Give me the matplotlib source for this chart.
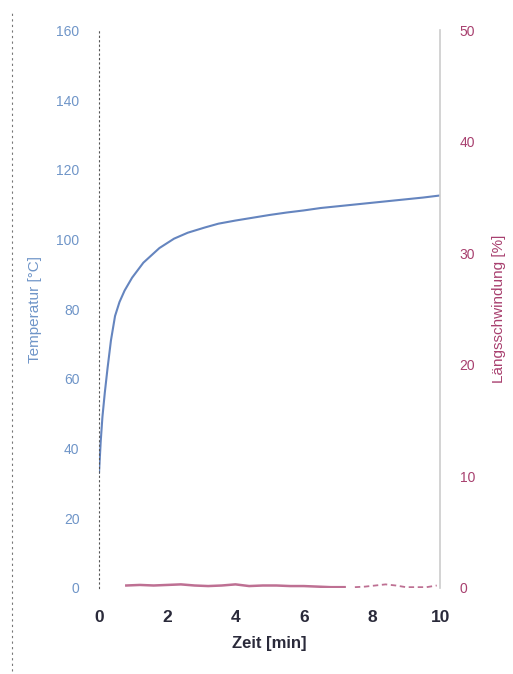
import matplotlib

matplotlib.use("Agg")
import matplotlib.pyplot as plt
from matplotlib.lines import Line2D

plt.rcParams["font.family"] = ["Liberation Sans", "DejaVu Sans"]

# temperature curve
zeit_temp = [0.0, 0.05, 0.1, 0.17, 0.25, 0.35, 0.47, 0.6, 0.75, 0.97, 1.3, 1.77,
             2.2, 2.6, 3.1, 3.5, 4.0, 4.5, 5.0, 5.5, 6.0, 6.5, 7.0, 7.5,
             8.0, 8.5, 9.0, 9.5, 10.0]
temperatur = [33, 42, 49, 56, 63, 71, 78, 82, 85.3, 89, 93.3, 97.5,
              100.2, 101.9, 103.4, 104.5, 105.4, 106.2, 107, 107.7, 108.3, 109, 109.5, 110,
              110.5, 111, 111.5, 112, 112.6]

# shrinkage curve (near zero)
zeit_schw = [0.8, 1.2, 1.6, 2.0, 2.4, 2.8, 3.2, 3.6, 4.0, 4.4, 4.8, 5.2, 5.6, 6.0,
             6.4, 6.8, 7.2]
schwindung = [0.2, 0.25, 0.2, 0.25, 0.3, 0.2, 0.15, 0.2, 0.3, 0.15, 0.2, 0.2,
              0.15, 0.15, 0.1, 0.05, 0.05]
zeit_schw2 = [7.5, 7.8, 8.1, 8.4, 8.7, 9.0, 9.3, 9.6, 9.9]
schwindung2 = [0.05, 0.1, 0.2, 0.3, 0.2, 0.05, 0.05, 0.05, 0.2]

x_ticks = [0, 2, 4, 6, 8, 10]
y_ticks_left = [0, 20, 40, 60, 80, 100, 120, 140, 160]
y_ticks_right = [0, 10, 20, 30, 40, 50]

blue = "#6585bf"
purple = "#a8406f"
label_blue = "#6f95c8"

fig = plt.figure(figsize=(5.13, 6.74), dpi=100)
ax = fig.add_axes([0.193, 0.128, 0.665, 0.827])
ax2 = ax.twinx()

ax.plot(zeit_temp, temperatur, color=blue, linewidth=1.5)
ax2.plot(zeit_schw, schwindung, color=purple, linewidth=1.8, alpha=0.75)
ax2.plot(zeit_schw2, schwindung2, color=purple, linewidth=1.3, linestyle=(0, (3, 2)), alpha=0.75)

ax.set_xlim(0, 10)
ax.set_ylim(0, 160)
ax2.set_ylim(0, 50)
ax.set_xticks(x_ticks)
ax.set_yticks(y_ticks_left)
ax2.set_yticks(y_ticks_right)

ax.tick_params(axis="x", length=0, pad=16, labelsize=12.5, labelcolor="#2a2a3a")
for lbl in ax.get_xticklabels():
    lbl.set_fontweight("bold")
ax.tick_params(axis="y", length=0, pad=14, labelsize=10, labelcolor=label_blue)
ax2.tick_params(axis="y", length=0, pad=14, labelsize=10, labelcolor=purple)

for a in (ax, ax2):
    for side in ("top", "bottom", "left", "right"):
        a.spines[side].set_visible(False)
ax.spines["left"].set_visible(True)
ax.spines["left"].set_color("#555555")
ax.spines["left"].set_linestyle((0, (1, 3)))
ax.spines["left"].set_linewidth(0.8)
ax2.spines["right"].set_visible(True)
ax2.spines["right"].set_color("#cccccc")
ax2.spines["right"].set_linewidth(1.2)

ax.set_xlabel("Zeit [min]", fontsize=12, fontweight="bold", color="#2a2a3a", labelpad=8)
ax.set_ylabel("Temperatur [°C]", fontsize=11, color=label_blue, labelpad=10)
ax2.set_ylabel("Längsschwindung [%]", fontsize=11, color=purple, labelpad=12)

# scan edge on the left side
fig.add_artist(Line2D([0.024, 0.024], [0.005, 0.985], transform=fig.transFigure,
                      color="#777777", linewidth=0.8, linestyle=(0, (2, 3))))

fig.savefig("out.png", dpi=100)
